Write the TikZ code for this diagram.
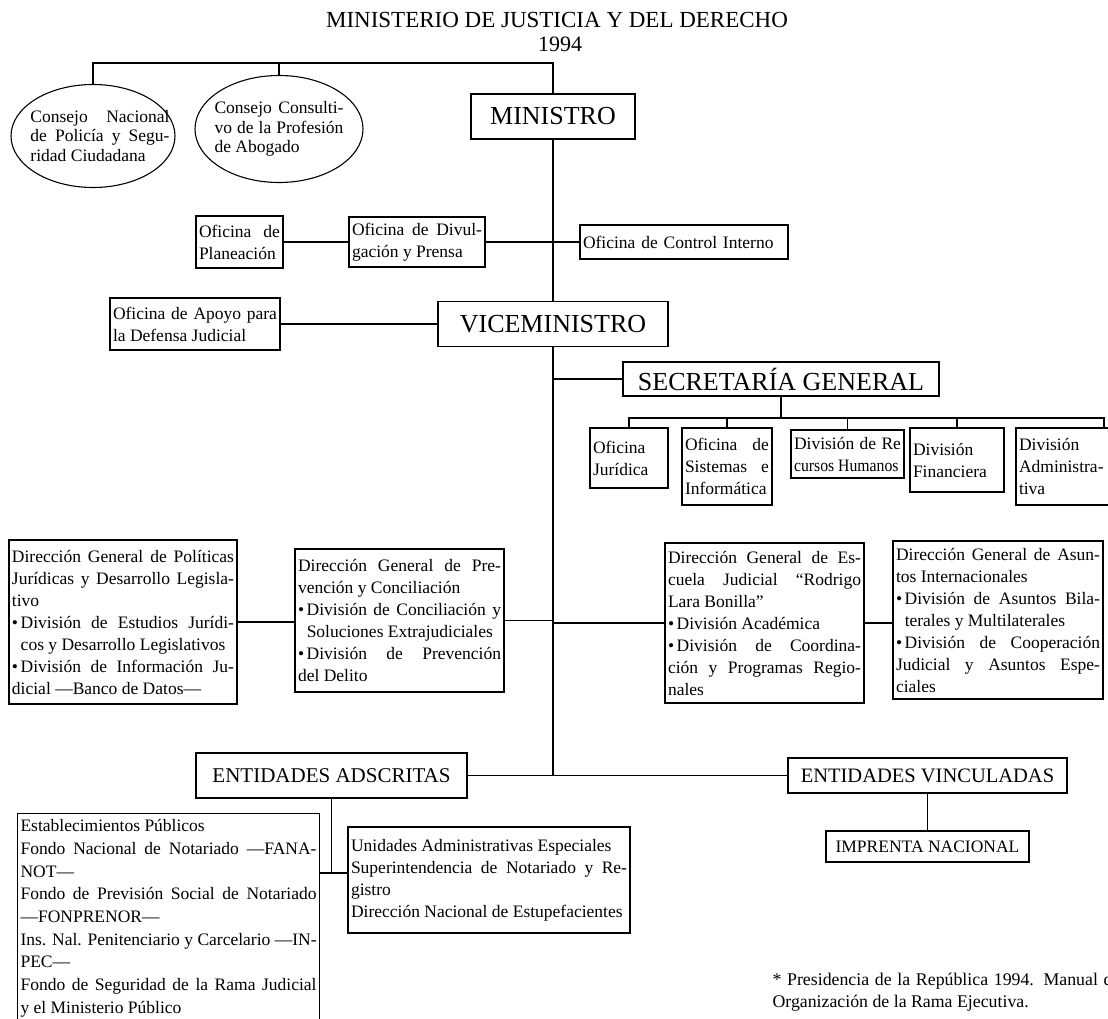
\documentclass[tikz,border=0pt]{standalone}
\usepackage{fontspec}
\usepackage{graphicx}
\setmainfont{Liberation Serif}
\usetikzlibrary{shapes.geometric}

\newcommand{\cajatxt}{\fontsize{17.5}{22}\selectfont\parindent=0pt\tolerance=10000\hbadness=10000\hyphenpenalty=10000\relax}
\newcommand{\elitxt}{\fontsize{17.5}{19.5}\selectfont\parindent=0pt\tolerance=10000\hbadness=10000\hyphenpenalty=10000\relax}
\newcommand{\itm}{\hangindent=0.5em\hangafter=1\makebox[0.5em][l]{\textbullet}}

\begin{document}
\begin{tikzpicture}[x=1pt, y=-1pt, line width=1.1pt,
    caja/.style={draw, inner xsep=3pt, inner ysep=3pt, align=justify, font=\cajatxt},
    grande/.style={draw, inner sep=0pt, align=center},
    elipse/.style={draw, ellipse, inner sep=0pt}]
    \useasboundingbox (0,0) rectangle (1108,1019);
    \fill[white] (0,0) rectangle (1108,1019);
    \clip (0,0) rectangle (1108,1019);

    % Title
    \node[anchor=base, font=\fontsize{23}{28}\selectfont] (titulo) at (557,28) {MINISTERIO DE JUSTICIA Y DEL DERECHO};
    \node[anchor=base, font=\fontsize{22}{26}\selectfont] (anio) at (560,52) {1994};

    % Ministro and councils
    \node[grande, minimum width=164pt, minimum height=45pt, font=\fontsize{26}{30}\selectfont] (ministro) at (553,116.5) {MINISTRO};
    \node[elipse, minimum width=164pt, minimum height=103pt,
        label={[text width=139pt, align=justify, font=\elitxt, xshift=7pt]center:{Consejo Nacional\linebreak de Policía y Segu-\linebreak ridad Ciudadana}}] (cnpsc) at (93,136) {};
    \node[elipse, minimum width=168pt, minimum height=107pt,
        label={[text width=129pt, align=justify, font=\elitxt]center:{Consejo Consulti-\linebreak vo de la Profesión\linebreak de Abogado}}] (ccpa) at (279,129) {};
    \coordinate (bus) at (0,63);
    \draw (cnpsc.north) |- (bus -| ministro.north) -- (ministro.north);
    \draw (ccpa.north) -- (ccpa.north |- bus);

    % Offices
    \node[caja, text width=81pt, minimum height=52pt] (planeacion) at (239.5,242) {Oficina de\linebreak Planeación};
    \node[caja, text width=130pt, minimum height=50pt] (divulgacion) at (417,242) {Oficina de Divul-\linebreak gación y Prensa};
    \node[caja, text width=202pt, minimum height=34pt, align=left] (control) at (684,242) {Oficina de Control Interno};
    \draw (planeacion) -- (divulgacion);
    \draw (divulgacion) -- (control);

    \node[caja, text width=164pt, minimum height=52pt] (apoyo) at (195,324) {Oficina de Apoyo para\linebreak la Defensa Judicial};
    \node[grande, minimum width=230pt, minimum height=45pt, font=\fontsize{26}{30}\selectfont] (vice) at (553,324) {VICEMINISTRO};
    \draw (apoyo) -- (vice);
    \draw (ministro) -- (vice);

    % Secretaria General
    \node[grande, minimum width=316pt, minimum height=34pt, font=\fontsize{26}{30}\selectfont] (secretaria) at (781,379) {SECRETARÍA GENERAL};
    \draw (vice.south |- secretaria.west) -- (secretaria.west);
    \node[caja, text width=72pt, minimum height=60pt] (juridica) at (629,458) {Oficina\\ Jurídica};
    \node[caja, text width=84pt, minimum height=77pt] (sistemas) at (727,466.5) {Oficina de\linebreak Sistemas e\linebreak Informática};
    \node[caja, text width=107pt, minimum height=48pt] (rrhh) at (847.5,454) {División de Re\linebreak \scalebox{0.9}[1]{cursos Humanos}};
    \node[caja, text width=88pt, minimum height=64pt] (financiera) at (957,460) {División\\ Financiera};
    \node[caja, text width=90pt, minimum height=77pt] (administrativa) at (1064,466.5) {División\\ Administra-\\ tiva};
    \coordinate (sgfin) at (1104,418);
    \draw (juridica.north) |- (sgfin) -- (sgfin |- administrativa.north);
    \draw (secretaria.south) -- (secretaria.south |- sgfin);
    \foreach \n in {sistemas, rrhh, financiera}
        \draw (\n.north) -- (\n.north |- sgfin);

    % Direcciones generales
    \node[caja, text width=222pt, minimum height=164pt] (politicas) at (123,622) {Dirección General de Políticas\linebreak Jurídicas y Desarrollo Legisla-\linebreak tivo\par
        \itm División de Estudios Jurídi-\linebreak cos y Desarrollo Legislativos\par
        \itm División de Información Ju-\linebreak dicial ---Banco de Datos---};
    \node[caja, text width=203pt, minimum height=143pt] (prevencion) at (399.5,620.5) {Dirección General de Pre-\linebreak vención y Conciliación\par
        \itm División de Conciliación y\linebreak Soluciones Extrajudiciales\par
        \itm División de Prevención\linebreak del Delito};
    \node[caja, text width=193pt, minimum height=160pt] (escuela) at (764.5,623) {Dirección General de Es-\linebreak cuela Judicial ``Rodrigo\linebreak Lara Bonilla''\par
        \itm División Académica\par
        \itm División de Coordina-\linebreak ción y Programas Regio-\linebreak nales};
    \node[caja, text width=204pt, minimum height=158pt] (internacionales) at (998,620) {Dirección General de Asun-\linebreak tos Internacionales\par
        \itm División de Asuntos Bila-\linebreak terales y Multilaterales\par
        \itm División de Cooperación\linebreak Judicial y Asuntos Espe-\linebreak ciales};
    \draw (politicas.east) -- (politicas.east -| prevencion.west);
    \draw (prevencion.east) -- (prevencion.east -| vice.south);
    \draw (escuela.west -| vice.south) -- (escuela.west);
    \draw (escuela.east) -- (escuela.east -| internacionales.west);

    % Entidades
    \node[grande, minimum width=271pt, minimum height=45pt, font=\fontsize{21}{25}\selectfont] (adscritas) at (331.5,775.5) {ENTIDADES ADSCRITAS};
    \node[grande, minimum width=279pt, minimum height=35pt, font=\fontsize{20.5}{25}\selectfont] (vinculadas) at (927.5,775.5) {ENTIDADES VINCULADAS};
    \draw (vice.south) -- (vice.south |- adscritas.east);
    \draw (adscritas.east) -- (vinculadas.west);
    \node[grande, minimum width=203pt, minimum height=31pt, font=\fontsize{17.5}{21}\selectfont] (imprenta) at (927.5,846.5) {IMPRENTA NACIONAL};
    \draw (vinculadas) -- (imprenta);

    \node[caja, anchor=north west, text width=296pt, inner ysep=6pt, font={\cajatxt\fontsize{17.5}{22.7}\selectfont}] (establecimientos) at (17,813) {Establecimientos Públicos\par
        Fondo Nacional de Notariado ---FANA-\linebreak NOT---\par
        Fondo de Previsión Social de Notariado\linebreak ---FONPRENOR---\par
        Ins. Nal. Penitenciario y Carcelario ---IN-\linebreak PEC---\par
        Fondo de Seguridad de la Rama Judicial\linebreak y el Ministerio Público\par
        \vspace*{30pt}};
    \node[caja, text width=276pt, minimum height=106pt] (unidades) at (489,880) {Unidades Administrativas Especiales\par
        Superintendencia de Notariado y Re-\linebreak gistro\par
        Dirección Nacional de Estupefacientes};
    \coordinate (adsunion) at (331.5,873);
    \draw (adscritas.south) -- (adsunion);
    \draw (adsunion -| establecimientos.east) -- (adsunion -| unidades.west);

    % Source note
    \node[anchor=base west, inner sep=0pt, font=\fontsize{17.8}{22}\selectfont] (nota) at (772,985) {\makebox[340pt][s]{* Presidencia de la República 1994. Manual d}};
    \node[anchor=base west, inner sep=0pt, font=\fontsize{17.8}{22}\selectfont] (notados) at (772,1007) {Organización de la Rama Ejecutiva.};
\end{tikzpicture}
\end{document}
